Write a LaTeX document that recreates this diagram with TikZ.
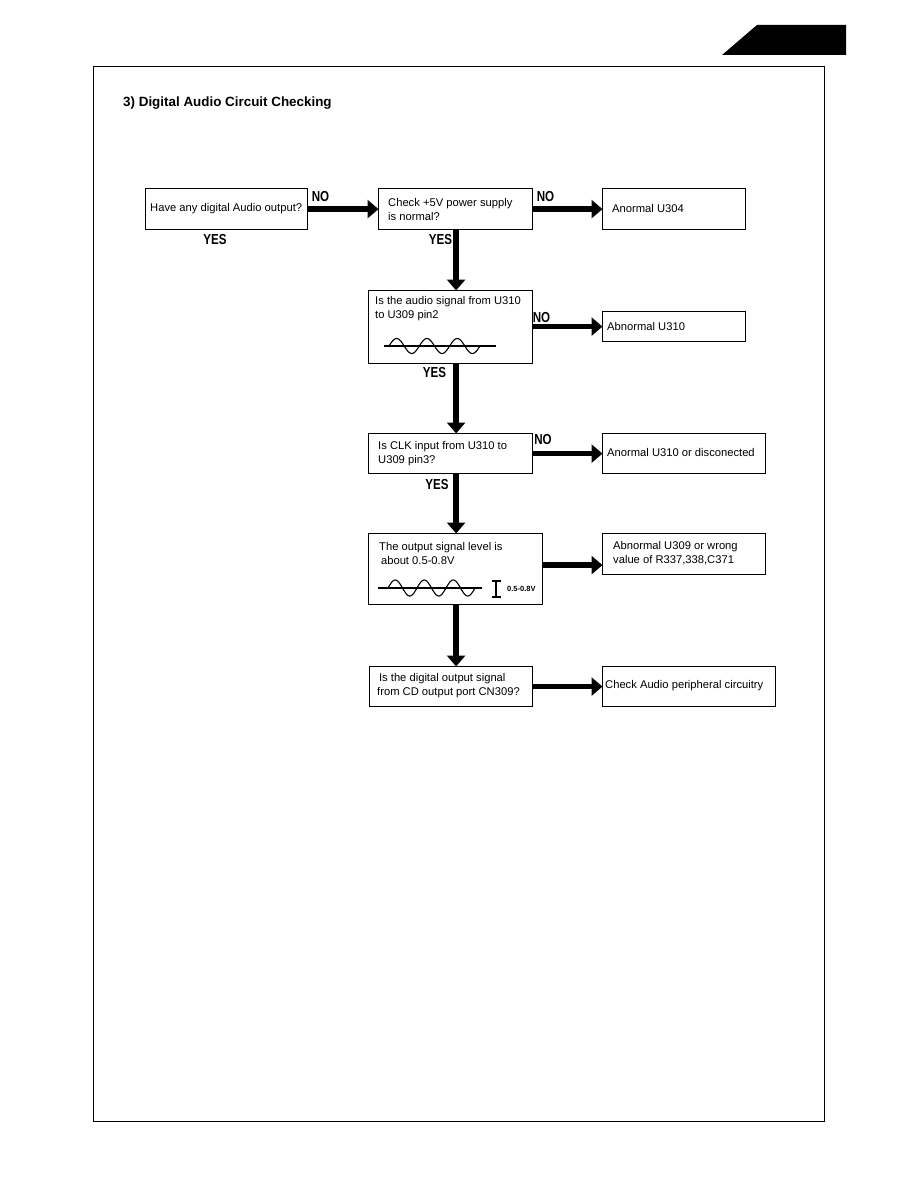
\documentclass[tikz,border=0pt]{standalone}
\usepackage{fontspec}
\setmainfont{Liberation Sans}
\newfontfamily\labfont[FakeStretch=0.8]{Liberation Sans}
\usetikzlibrary{arrows.meta,calc}
\tikzset{
  box/.style={draw=black, line width=1.2pt, inner sep=0pt, anchor=north west},
  txt/.style={inner sep=0pt, anchor=west, align=left, font=\fontsize{11.2}{14}\selectfont},
  yn/.style={inner sep=0pt, font=\labfont\bfseries\fontsize{14.5}{15}\selectfont},
  flow/.style={line width=5.5pt, -{Triangle[length=11pt,width=18pt]}, shorten >=-0.5pt},
  wave/.style={line width=1.1pt},
}
\begin{document}
\begin{tikzpicture}[x=1pt,y=-1pt]
\useasboundingbox (0,0) rectangle (918,1188);
% corner tab and frame
\fill[black] (757,25) -- (846,25) -- (846,55) -- (722,55) -- cycle;
\node[draw=black, line width=1.4pt, inner sep=0pt, anchor=north west, minimum width=731pt, minimum height=1055pt] (frame) at (93,66) {};
\node[inner sep=0pt, anchor=west, font=\bfseries\fontsize{13.4}{15}\selectfont] (title) at (123,103) {3) Digital Audio Circuit Checking};

% boxes
\node[box, minimum width=162pt, minimum height=41pt] (b1) at (145,188) {};
\node[box, minimum width=154pt, minimum height=41pt] (b2) at (378,188) {};
\node[box, minimum width=143pt, minimum height=41pt] (b3) at (602,188) {};
\node[box, minimum width=164pt, minimum height=73pt] (b4) at (368,290) {};
\node[box, minimum width=143pt, minimum height=30pt] (b5) at (602,311) {};
\node[box, minimum width=164pt, minimum height=40pt] (b6) at (368,433) {};
\node[box, minimum width=163pt, minimum height=40pt] (b7) at (602,433) {};
\node[box, minimum width=174pt, minimum height=71pt] (b8) at (368,533) {};
\node[box, minimum width=163pt, minimum height=41pt] (b9) at (602,533) {};
\node[box, minimum width=163pt, minimum height=40pt] (b10) at (369,666) {};
\node[box, minimum width=173pt, minimum height=40pt] (b11) at (602,666) {};

% texts
\node[txt] (t1) at (150,208.5) {Have any digital Audio output?};
\node[txt] (t2) at (388,209) {Check +5V power supply\\is normal?};
\node[txt] (t3) at (612,208.5) {Anormal U304};
\node[txt] (t4) at (375,308.5) {Is the audio signal from U310\\to U309 pin2};
\node[txt] (t5) at (607,326) {Abnormal U310};
\node[txt] (t6) at (378,454) {Is CLK input from U310 to\\U309 pin3?};
\node[txt] (t7) at (607,452.5) {Anormal U310 or disconected};
\node[txt] (t8) at (379,553) {The output signal level is\\\,about 0.5-0.8V};
\node[txt] (t9) at (613,553) {Abnormal U309 or wrong\\value of R337,338,C371};
\node[txt] (t10) at (377,685.5) {\,Is the digital output signal\\from CD output port CN309?};
\node[txt] (t11) at (605,686) {Check Audio peripheral circuitry};

% waveforms
\draw[wave] (384,346) -- (496,346);
\draw[wave] plot[domain=0:91, samples=120] ({389+\x}, {346-7.5*sin(\x*11.87)});
\draw[wave] (378,588) -- (482,588);
\draw[wave] plot[domain=0:87, samples=120] ({388+\x}, {588-8*sin(\x*12.414)});
\draw[line width=1.1pt] (496,581) -- (496,597) (491.5,581) -- (500.5,581) (491.5,597) -- (500.5,597);
\node[inner sep=0pt, anchor=west, font=\bfseries\fontsize{7.5}{8}\selectfont] (lv) at (507,589) {0.5-0.8V};

% connectors
\draw[flow] (b1.east) -- (b2.west);
\draw[flow] (b2.east) -- (b3.west);
\draw[flow] ([xshift=0.5pt]b2.south) -- ([xshift=0.5pt]b2.south |- b4.north);
\draw[flow] (b4.east |- b5.west) -- (b5.west);
\draw[flow] ([xshift=0.5pt]b2.south |- b4.south) -- ([xshift=0.5pt]b2.south |- b6.north);
\draw[flow] (b6.east) -- (b7.west);
\draw[flow] ([xshift=0.5pt]b2.south |- b6.south) -- ([xshift=0.5pt]b2.south |- b8.north);
\draw[flow] ([yshift=4pt]b8.east) -- ([yshift=4pt]b8.east -| b9.west);
\draw[flow] ([xshift=0.5pt]b2.south |- b8.south) -- ([xshift=0.5pt]b2.south |- b10.north);
\draw[flow] (b10.east) -- (b11.west);

% YES / NO labels
\node[yn] (no1) at (320.5,196.5) {NO};
\node[yn] (yes1) at (215,240) {YES};
\node[yn] (no2) at (545.5,196.5) {NO};
\node[yn] (yes2) at (440.5,240) {YES};
\node[yn] (no3) at (541.5,318) {NO};
\node[yn] (yes3) at (434.5,373) {YES};
\node[yn] (no4) at (543,440) {NO};
\node[yn] (yes4) at (437,484.5) {YES};
\end{tikzpicture}
\end{document}
